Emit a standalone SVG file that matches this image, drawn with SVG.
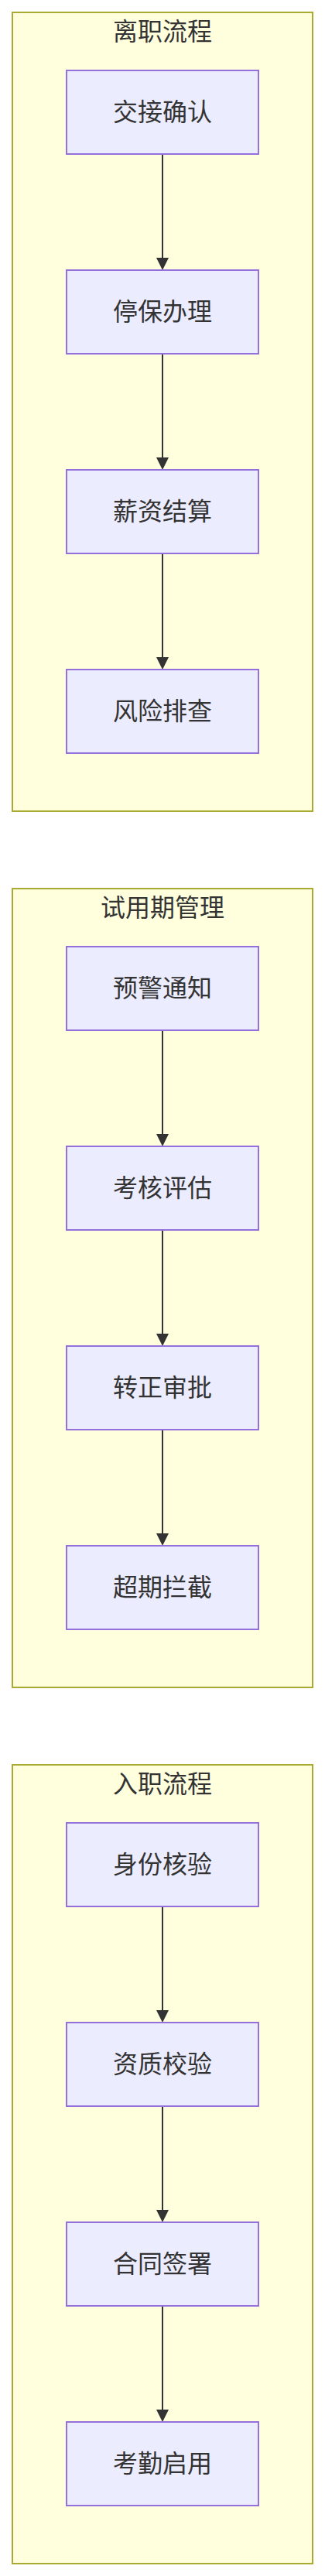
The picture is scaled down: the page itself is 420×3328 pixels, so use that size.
<svg xmlns="http://www.w3.org/2000/svg" width="420" height="3328" viewBox="0 0 420 3328">
<style>
.cluster{fill:#ffffde;stroke:#aaaa33;stroke-width:2}
.node{fill:#ececff;stroke:#9370db;stroke-width:2}
.t{font-family:"Noto Sans CJK SC","Noto Sans",sans-serif;font-size:32px;fill:#333;text-anchor:middle}
.edge{stroke:#333;stroke-width:2;fill:none}
.ah{fill:#333}
</style>
<rect width="420" height="3328" fill="#ffffff"/>
<g id="cluster-offboarding">
<rect class="cluster" x="16" y="16" width="388" height="1032"/>
<text class="t" x="210" y="52">离职流程</text>
</g>
<g id="cluster-probation">
<rect class="cluster" x="16" y="1148" width="388" height="1032"/>
<text class="t" x="210" y="1184">试用期管理</text>
</g>
<g id="cluster-onboarding">
<rect class="cluster" x="16" y="2280" width="388" height="1032"/>
<text class="t" x="210" y="2316">入职流程</text>
</g>
<g id="connectors">
<line class="edge" x1="210" y1="199" x2="210" y2="335"/><polygon class="ah" points="202,333 218,333 210,349"/>
<line class="edge" x1="210" y1="457" x2="210" y2="593"/><polygon class="ah" points="202,591 218,591 210,607"/>
<line class="edge" x1="210" y1="715" x2="210" y2="851"/><polygon class="ah" points="202,849 218,849 210,865"/>
<line class="edge" x1="210" y1="1331" x2="210" y2="1467"/><polygon class="ah" points="202,1465 218,1465 210,1481"/>
<line class="edge" x1="210" y1="1589" x2="210" y2="1725"/><polygon class="ah" points="202,1723 218,1723 210,1739"/>
<line class="edge" x1="210" y1="1847" x2="210" y2="1983"/><polygon class="ah" points="202,1981 218,1981 210,1997"/>
<line class="edge" x1="210" y1="2463" x2="210" y2="2599"/><polygon class="ah" points="202,2597 218,2597 210,2613"/>
<line class="edge" x1="210" y1="2721" x2="210" y2="2857"/><polygon class="ah" points="202,2855 218,2855 210,2871"/>
<line class="edge" x1="210" y1="2979" x2="210" y2="3115"/><polygon class="ah" points="202,3113 218,3113 210,3129"/>
</g>
<g id="n1"><rect class="node" x="86" y="91" width="248" height="108"/><text class="t" x="210" y="156">交接确认</text></g>
<g id="n2"><rect class="node" x="86" y="349" width="248" height="108"/><text class="t" x="210" y="414">停保办理</text></g>
<g id="n3"><rect class="node" x="86" y="607" width="248" height="108"/><text class="t" x="210" y="672">薪资结算</text></g>
<g id="n4"><rect class="node" x="86" y="865" width="248" height="108"/><text class="t" x="210" y="930">风险排查</text></g>
<g id="n5"><rect class="node" x="86" y="1223" width="248" height="108"/><text class="t" x="210" y="1288">预警通知</text></g>
<g id="n6"><rect class="node" x="86" y="1481" width="248" height="108"/><text class="t" x="210" y="1546">考核评估</text></g>
<g id="n7"><rect class="node" x="86" y="1739" width="248" height="108"/><text class="t" x="210" y="1804">转正审批</text></g>
<g id="n8"><rect class="node" x="86" y="1997" width="248" height="108"/><text class="t" x="210" y="2062">超期拦截</text></g>
<g id="n9"><rect class="node" x="86" y="2355" width="248" height="108"/><text class="t" x="210" y="2420">身份核验</text></g>
<g id="n10"><rect class="node" x="86" y="2613" width="248" height="108"/><text class="t" x="210" y="2678">资质校验</text></g>
<g id="n11"><rect class="node" x="86" y="2871" width="248" height="108"/><text class="t" x="210" y="2936">合同签署</text></g>
<g id="n12"><rect class="node" x="86" y="3129" width="248" height="108"/><text class="t" x="210" y="3194">考勤启用</text></g>
</svg>
